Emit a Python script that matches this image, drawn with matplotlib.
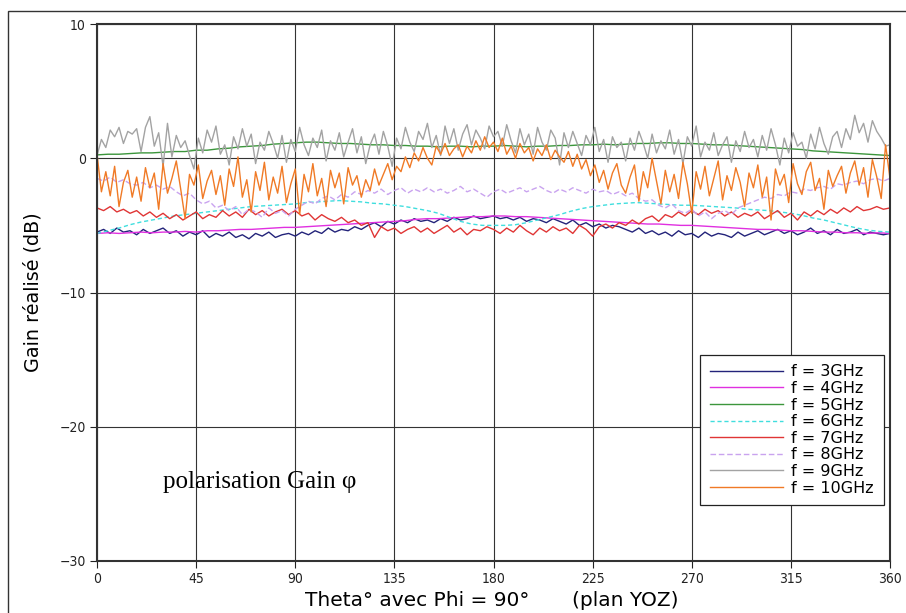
import numpy as np
import matplotlib
matplotlib.use("Agg")
import matplotlib.pyplot as plt
from matplotlib.patches import Rectangle

# ---------------- data ----------------
theta_2 = np.arange(0, 361, 2)   # 181 samples
theta_3 = np.arange(0, 361, 3)   # 121 samples
theta_5 = np.arange(0, 361, 5)   # 73 samples

g3 = [-5.5, -5.3, -5.6, -5.2, -5.5, -5.4, -5.7, -5.3, -5.6, -5.4,
      -5.2, -5.6, -5.4, -5.8, -5.5, -5.7, -5.4, -5.9, -5.6, -5.8,
      -5.5, -5.9, -5.7, -6.0, -5.6, -5.8, -5.5, -5.9, -5.7, -5.6,
      -5.8, -5.5, -5.7, -5.4, -5.6, -5.2, -5.5, -5.3, -5.4, -5.1,
      -5.3, -5.0, -4.8, -5.1, -4.7, -4.9, -4.6, -4.8, -4.5, -4.7,
      -4.6, -4.8, -4.5, -4.7, -4.4, -4.6, -4.5, -4.3, -4.5, -4.4,
      -4.3, -4.5, -4.4, -4.6, -4.4, -4.7, -4.5, -4.6, -4.8, -4.5,
      -4.7, -4.9, -4.6, -5.0, -4.8, -5.1, -4.9, -5.2, -5.0, -5.1,
      -5.3, -5.5, -5.2, -5.6, -5.4, -5.7, -5.5, -5.8, -5.4, -5.7,
      -5.6, -5.9, -5.5, -5.8, -5.6, -5.7, -5.9, -5.5, -5.8, -5.6,
      -5.4, -5.7, -5.5, -5.3, -5.6, -5.4, -5.7, -5.5, -5.2, -5.6,
      -5.4, -5.7, -5.3, -5.6, -5.5, -5.3, -5.7, -5.5, -5.6, -5.7,
      -5.6]

g4 = [-5.6, -5.55, -5.6, -5.55, -5.5, -5.55, -5.5, -5.5, -5.45, -5.5,
      -5.4, -5.4, -5.35, -5.3, -5.3, -5.25, -5.2, -5.15, -5.15, -5.1,
      -5.05, -5.0, -4.95, -4.9, -4.85, -4.8, -4.75, -4.7, -4.65, -4.55,
      -4.5, -4.5, -4.45, -4.4, -4.35, -4.35, -4.3, -4.3, -4.35, -4.35,
      -4.4, -4.45, -4.5, -4.55, -4.6, -4.65, -4.7, -4.75, -4.8, -4.85,
      -4.9, -4.9, -4.95, -5.0, -5.0, -5.05, -5.1, -5.15, -5.2, -5.25,
      -5.3, -5.3, -5.35, -5.4, -5.4, -5.45, -5.5, -5.5, -5.55, -5.55,
      -5.6, -5.55, -5.6]

g5 = [0.25, 0.3, 0.3, 0.35, 0.4, 0.4, 0.45, 0.5, 0.5, 0.6,
      0.6, 0.7, 0.75, 0.85, 0.9, 0.95, 1.05, 1.1, 1.15, 1.2,
      1.2, 1.15, 1.1, 1.1, 1.05, 1.0, 1.0, 0.95, 0.95, 0.9,
      0.9, 0.85, 0.9, 0.9, 0.85, 0.9, 0.9, 0.95, 0.9, 0.85,
      0.9, 0.9, 0.95, 0.95, 1.0, 1.0, 1.05, 1.0, 1.05, 1.1,
      1.1, 1.15, 1.15, 1.1, 1.1, 1.05, 1.0, 1.0, 0.95, 0.9,
      0.85, 0.8, 0.75, 0.7, 0.65, 0.55, 0.5, 0.45, 0.4, 0.35,
      0.3, 0.25, 0.2]

g6 = [-5.6, -5.4, -5.2, -4.95, -4.75, -4.6, -4.45, -4.3, -4.2, -4.1,
      -4.0, -3.9, -3.8, -3.7, -3.6, -3.55, -3.5, -3.45, -3.4, -3.3,
      -3.25, -3.2, -3.15, -3.2, -3.25, -3.35, -3.4, -3.5, -3.6, -3.75,
      -3.9, -4.1, -4.4, -4.7, -4.9, -5.0, -5.0, -5.0, -4.95, -4.8,
      -4.6, -4.4, -4.2, -3.95, -3.75, -3.6, -3.5, -3.4, -3.35, -3.3,
      -3.35, -3.4, -3.45, -3.5, -3.5, -3.55, -3.6, -3.65, -3.7, -3.8,
      -3.85, -3.9, -4.0, -4.1, -4.25, -4.45, -4.6, -4.8, -5.0, -5.2,
      -5.35, -5.45, -5.5]

g7 = [-3.7, -3.9, -3.6, -4.0, -3.8, -4.1, -3.9, -4.3, -4.0, -4.4,
      -4.1, -4.5, -4.2, -4.6, -4.3, -4.0, -4.5, -4.2, -4.4, -3.9,
      -4.3, -4.0, -4.4, -3.8, -4.2, -3.9, -4.3, -4.0, -3.8, -4.2,
      -3.9, -4.3, -4.1, -4.6, -4.2, -4.5, -4.7, -4.4, -4.8, -4.6,
      -5.0, -4.8, -5.9, -5.1, -5.4, -5.2, -5.6, -5.3, -5.1, -5.5,
      -5.2, -5.6, -5.3, -5.0, -5.5, -5.2, -5.7, -5.3, -5.4, -5.1,
      -5.3, -5.6, -5.2, -5.5, -5.0, -5.4, -5.7, -5.2, -5.5, -5.1,
      -5.4, -5.2, -5.6, -5.0, -5.3, -5.8, -5.1, -4.9, -5.2, -4.8,
      -5.0, -4.6, -4.9, -4.5, -4.3, -4.7, -4.2, -4.4, -4.0, -4.3,
      -3.9, -4.2, -3.8, -4.1, -3.9, -4.3, -4.0, -4.4, -4.1, -4.3,
      -4.0, -4.5, -4.2, -3.9, -4.4, -4.1, -4.6, -4.0, -4.3, -3.9,
      -4.2, -3.8, -4.1, -3.7, -4.0, -3.6, -3.9, -3.8, -3.6, -3.8,
      -3.7]

g8 = [-1.5, -1.7, -1.4, -1.8, -1.6, -1.9, -2.0, -1.8, -2.2, -2.0,
      -2.3, -2.1, -2.5, -2.8, -2.6, -3.1, -3.4, -3.2, -3.7, -3.5,
      -3.9, -3.6, -4.2, -3.8, -4.0, -4.4, -3.7, -4.1, -3.9, -4.3,
      -3.8, -3.5, -3.2, -3.4, -3.0, -2.8, -3.1, -2.7, -2.9, -2.5,
      -2.7, -2.4, -2.6, -2.3, -2.7, -2.4, -2.2, -2.6, -2.3, -2.5,
      -2.2, -2.5, -2.3, -2.6, -2.4, -2.1, -2.5, -2.3, -2.6, -2.9,
      -2.5, -2.3, -2.6, -2.4, -2.2, -2.5, -2.3, -2.1, -2.4, -2.6,
      -2.3, -2.5, -2.2, -2.4, -2.6, -2.3, -2.5, -2.4, -2.7, -2.5,
      -2.8, -2.6, -3.0, -3.2, -3.1, -3.5, -3.7, -3.4, -3.9, -4.1,
      -3.8, -4.3, -4.0, -4.5, -4.1, -3.9, -4.2, -3.7, -3.5, -3.3,
      -3.1, -2.9, -3.0, -2.7, -2.8, -2.5, -2.6, -2.3, -2.4, -2.2,
      -2.1, -2.3, -1.9, -2.0, -1.8, -1.7, -1.9, -1.6, -1.5, -1.7,
      -1.5]

g9 = [0.2, 1.4, 0.8, 2.1, 1.6, 2.3, 1.1, 2.0, 1.8, 2.2,
      0.5, 2.3, 3.1, 0.9, 1.9, -0.6, 2.6, 0.1, 1.7, 0.8,
      1.3, 0.2, -0.8, 1.5, 0.4, 2.1, 1.2, 2.4, 0.3, 1.0,
      -0.5, 1.6, 0.7, 2.2, 0.9, 1.8, -0.4, 1.2, 0.6, 2.0,
      1.1, 0.0, 1.7, -0.3, 1.4, 0.5, 2.3, 1.0, 0.2, 1.5,
      0.8, 2.1, -0.2, 1.3, 0.6, 1.9, 0.1, 1.2, 2.2, 0.4,
      1.6, -0.4, 1.0, 1.8, 0.3, 2.0, 0.9, -0.6, 1.5, 0.7,
      2.3, 1.2, 0.5, 2.0, 1.4, 2.6, 0.8, 1.7, 0.2, 2.4,
      1.1, 2.2, 0.6, 1.8, 2.5, 1.0, 2.1, 1.5, 0.7, 2.4,
      1.6, 2.0, 0.9, 2.5, 1.3, 0.4, 2.2, 1.0, 1.8, 0.3,
      2.3, 1.2, 0.6, 2.1, 1.5, -0.5, 1.9, 0.8, 2.0, 1.1,
      0.2, 1.7, 1.0, 2.3, 0.5, 1.4, -0.3, 1.6, 0.8, 1.2,
      -0.2, 1.5, 0.6, 2.0, 1.1, 0.0, 1.8, 0.4, 1.3, 0.7,
      2.1, 0.3, 1.4, -0.4, 1.6, 0.9, 2.4, 0.1, 1.2, 0.6,
      1.9, 0.2, 1.0, 1.6, -0.3, 1.3, 0.5, 2.0, 0.8, 1.4,
      0.1, 1.7, 0.6, 2.2, 1.0, -0.5, 1.5, 0.4, 1.9, 0.9,
      1.2, 0.0, 1.8, 0.7, 2.3, 1.1, 0.3, 1.6, 2.0, 0.8,
      2.2, 1.4, 3.2, 1.9, 2.6, 1.2, 2.8, 2.0, 1.5, 0.9,
      1.0]

g10 = [0.3, -2.5, -1.0, -2.8, -0.6, -3.6, -1.8, -0.9, -2.9, -1.4,
       -3.2, -0.7, -2.2, -1.1, -3.8, -0.4, -2.6, -1.5, -0.2, -2.3,
       -4.5, -1.2, -2.0, -0.5, -3.0, -1.7, -0.9, -2.7, -1.3, -3.5,
       -0.8, -2.1, 0.1, -2.9, -1.6, -4.0, -1.0, -2.4, -0.3, -3.1,
       -1.4, -2.6, -0.6, -3.3, -1.9, -0.8, -4.2, -1.2, -2.5, -0.4,
       -2.8, -1.5, -3.6, -0.9, -2.2, -1.1, -3.4, -0.7, -2.0, -1.3,
       -2.9, -1.6, -2.4, -0.8, -2.0, -1.2, -0.4, -1.6, -0.6, -1.0,
       0.1, -0.7, 0.4, -0.2, 0.8, 0.0, -0.5, 0.9, 0.3, 1.1,
       0.2, 0.7, 1.0, 0.1, 0.9, 0.4, 1.3, 0.6, 1.6, 0.8,
       1.2, 0.5, 1.5, 0.3, 0.9, 0.0, 1.1, 0.4, 0.8, -0.2,
       0.7, 0.2, 1.0, -0.1, 0.6, 0.1, -0.3, 0.5, -0.6, 0.3,
       -0.8, -0.1, -1.3, -0.5, -1.8, -0.9, -2.3, -1.1, -0.4, -2.0,
       -2.6, -1.4, -0.5, -3.2, -1.0, -2.2, 0.0, -1.7, -3.4, -0.9,
       -2.5, -1.2, -3.0, -0.3, -1.9, -4.1, -1.0, -2.3, -0.6, -2.8,
       -1.5, -0.2, -3.1, -1.3, -2.4, -0.7, -1.8, -3.6, -1.1, -2.2,
       -0.5, -2.9, -1.4, -4.6, -0.8, -2.0, -1.2, -3.3, -0.4, -1.9,
       -2.7, -1.0, -0.3, -2.4, -1.5, -3.8, -0.9, -2.1, -1.3, -0.6,
       -2.6, -1.1, -0.2, -2.0, -0.7, -2.9, -0.1, -1.4, -3.0, 1.0,
       -1.5]

labels = ["f = 3GHz", "f = 4GHz", "f = 5GHz", "f = 6GHz",
          "f = 7GHz", "f = 8GHz", "f = 9GHz", "f = 10GHz"]
xticks = [0, 45, 90, 135, 180, 225, 270, 315, 360]
yticks = [10, 0, -10, -20, -30]

# ---------------- figure ----------------
fig = plt.figure(figsize=(9.06, 6.13), dpi=100)
ax = fig.add_axes([97/906, 52/613, 793/906, 537/613])

series = [
    (theta_3, g3, "#23237a", "-"),
    (theta_5, g4, "#e030e0", "-"),
    (theta_5, g5, "#3c963c", "-"),
    (theta_5, g6, "#40dede", (0, (3, 2))),
    (theta_3, g7, "#e03535", "-"),
    (theta_3, g8, "#c9a3ef", (0, (4, 2))),
    (theta_2, g9, "#a3a3a3", "-"),
    (theta_2, g10, "#f07a26", "-"),
]
for (x, y, c, ls), lab in zip(series, labels):
    ax.plot(x, y, color=c, lw=1.0, ls=ls, label=lab)

ax.set_xlim(0, 360)
ax.set_ylim(-30, 10)
ax.set_xticks(xticks)
ax.set_yticks(yticks)
ax.set_yticklabels(["10", "0", "\u221210", "\u221220", "\u221230"])
ax.grid(True, color="#333333", lw=0.8)
ax.set_axisbelow(True)
for s in ax.spines.values():
    s.set_color("#333333")
    s.set_linewidth(1.5)
ax.tick_params(axis="both", direction="out", length=5, width=0.8,
               colors="#222222", labelsize=10, pad=3)
for lbl in ax.get_xticklabels() + ax.get_yticklabels():
    lbl.set_fontstretch("condensed")

ax.set_ylabel("Gain réalisé (dB)", fontsize=13.8, labelpad=12)
fig.text(305/906, 1 - 600/613, "Theta° avec Phi = 90°", fontsize=14.5,
         ha="left", va="center")
fig.text(572/906, 1 - 600/613, "(plan YOZ)", fontsize=14.5,
         ha="left", va="center")

ax.text(30, -24.56, "polarisation Gain φ", family="Liberation Serif",
        fontsize=18, va="baseline", ha="left")

leg = ax.legend(loc="lower right", bbox_to_anchor=(0.992, 0.104),
                borderaxespad=0,
                fontsize=11.5, handlelength=4.6, handletextpad=0.5,
                labelspacing=0.1, borderpad=0.6, fancybox=False,
                framealpha=1, edgecolor="#222222")
leg.get_frame().set_linewidth(0.9)

# outer frame
fig.patches.append(Rectangle((8/906, -0.1), 1.2, 1 - 11/613 + 0.1,
                             transform=fig.transFigure, fill=False,
                             edgecolor="#333333", lw=1.0))

fig.savefig("out.png", dpi=100)
